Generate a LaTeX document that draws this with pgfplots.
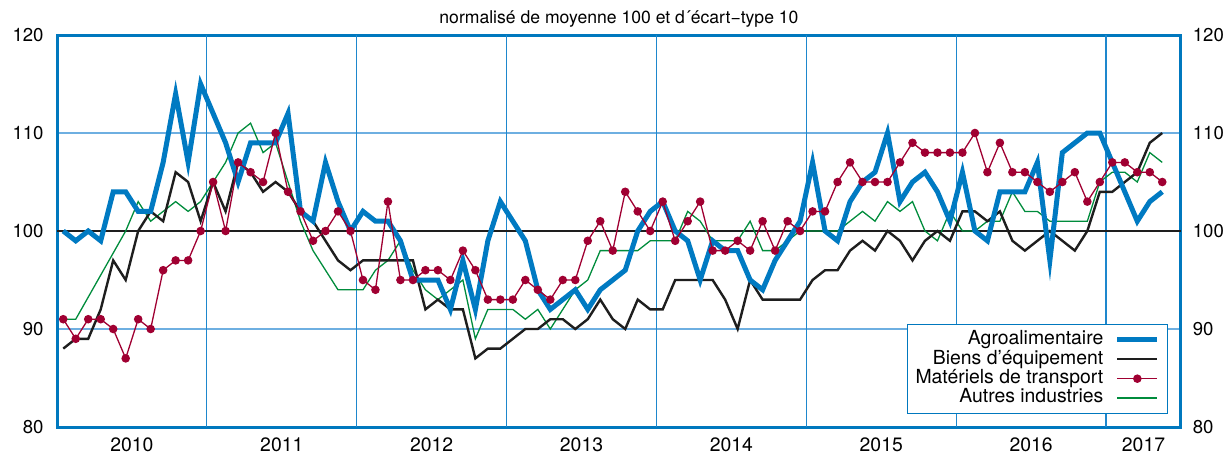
\documentclass[border=0pt]{standalone}
\usepackage{fontspec}
\setmainfont{TeX Gyre Heros}
\usepackage{pgfplots}
\usepackage{pgfplotstable}
\pgfplotsset{compat=1.18}
\definecolor{frameblue}{RGB}{0,120,190}
\definecolor{agro}{RGB}{0,122,194}
\definecolor{gridblue}{RGB}{110,175,225}
\definecolor{vblue}{RGB}{30,135,205}
\definecolor{transp}{RGB}{160,0,50}
\definecolor{autres}{RGB}{0,140,60}
\definecolor{biens}{RGB}{30,30,30}
\pgfplotstableread{
x agro biens transp autres
0.5 100 88 91 91
1.5 99 89 89 91
2.5 100 89 91 93.25
3.5 99 92 91 95.5
4.5 104 97 90 97.75
5.5 104 95 87 100
6.5 102 100 91 103
7.5 102 102 90 101
8.5 107 101 96 102
9.5 114 106 97 103
10.5 107 105 97 102
11.5 115 101 100 103
12.5 112 105 105 105
13.5 109 102 100 107
14.5 105 107 107 110
15.5 109 106 106 111
16.5 109 104 105 108
17.5 109 105 110 109
18.5 112 104 104 105
19.5 102 102 102 101
20.5 101 101 99 98
21.5 107 99 100 96
22.5 103 97 102 94
23.5 100 96 100 94
24.5 102 97 95 94
25.5 101 97 94 96
26.5 101 97 103 97
27.5 99 97 95 99
28.5 95 97 95 96
29.5 95 92 96 94
30.5 95 93 96 93
31.5 92 92 95 94
32.5 97 92 98 95
33.5 92 87 96 89
34.5 99 88 93 92
35.5 103 88 93 92
36.5 101 89 93 92
37.5 99 90 95 91
38.5 94 90 94 92
39.5 92 91 93 90
40.5 93 91 95 92
41.5 94 90 95 94
42.5 92 91 99 95
43.5 94 93 101 98
44.5 95 91 98 98
45.5 96 90 104 98
46.5 100 93 102 98
47.5 102 92 100 99
48.5 103 92 103 99
49.5 100 95 99 99
50.5 99 95 101 102
51.5 95 95 103 101
52.5 99 95 98 99
53.5 98 93 98 99
54.5 98 90 99 99
55.5 95 95 98 101
56.5 94 93 101 98
57.5 97 93 98 98
58.5 99 93 101 99
59.5 101 93 100 100
60.5 107 95 102 100
61.5 100 96 102 100
62.5 99 96 105 100
63.5 103 98 107 101
64.5 105 99 105 102
65.5 106 98 105 101
66.5 110 100 105 103
67.5 103 99 107 102
68.5 105 97 109 103
69.5 106 99 108 100
70.5 104 100 108 99
71.5 101 99 108 102
72.5 106 102 108 100
73.5 100 102 110 100
74.5 99 101 106 101
75.5 104 102 109 101
76.5 104 99 106 104
77.5 104 98 106 102
78.5 107 99 105 102
79.5 97 100 104 101
80.5 108 99 105 101
81.5 109 98 106 101
82.5 110 100 103 101
83.5 110 104 105 105
84.5 107 104 107 106
85.5 104 105 107 106
86.5 101 106 106 105
87.5 103 109 106 108
88.5 104 110 105 107
}\data
\begin{document}
\begin{tikzpicture}
\useasboundingbox (0,0) rectangle (613pt,227.5pt);
\begin{axis}[
  at={(28.5pt,14pt)}, anchor=south west,
  scale only axis, width=562pt, height=196pt,
  xmin=0, xmax=90, ymin=80, ymax=120,
  xtick={6,18,30,42,54,66,78,87},
  xticklabels={2010,2011,2012,2013,2014,2015,2016,2017},
  extra x ticks={12,24,36,48,60,72,84},
  extra x tick labels={},
  extra x tick style={grid=major, major grid style={vblue, line width=0.6pt}},
  ytick={80,90,100,110,120},
  ymajorgrids,
  major grid style={gridblue, line width=0.6pt},
  major tick length=0pt,
  ytick pos=left,
  axis line style={frameblue, line width=1.5pt},
  /pgf/number format/assume math mode=true,
  yticklabel style={font=\fontsize{9.3}{11}\selectfont, xshift=-3.2pt},
  xticklabel style={font=\fontsize{9.7}{11}\selectfont, yshift=-2pt},
  title={normalisé de moyenne 100 et d´écart−type 10},
  title style={at={(0.5,1)}, anchor=base, yshift=-0.2pt, inner sep=0pt, font=\fontsize{8.8}{10}\selectfont},
  legend style={at={(0.9884,0.0332)}, anchor=south east, draw=frameblue, line width=0.6pt, fill=white,
    font=\fontsize{9.7}{11}\selectfont, inner xsep=3.8pt, inner ysep=2.8pt,
    nodes={inner sep=0.3pt, text height=7pt, text depth=2.1pt},
    /tikz/every odd column/.style={column sep=5.5pt}},
  legend cell align=right, legend plot pos=right,
  legend image code/.code={\draw[mark repeat=2,mark phase=2] plot coordinates {(0cm,0cm) (0.35cm,0cm) (0.7cm,0cm)};},
]
\addlegendimage{agro, line width=2.5pt}
\addlegendentry{Agroalimentaire}
\addlegendimage{biens, line width=1.2pt}
\addlegendentry{Biens d’équipement}
\addlegendimage{transp, line width=0.65pt, mark=*, mark size=1.8pt}
\addlegendentry{Matériels de transport}
\addlegendimage{autres, line width=0.8pt}
\addlegendentry{Autres industries}
\draw[biens, line width=1pt] (axis cs:0,100) -- (axis cs:90,100);
\addplot[autres, line width=0.65pt, forget plot] table[x=x, y=autres] {\data};
\addplot[biens, line width=1.2pt, forget plot] table[x=x, y=biens] {\data};
\addplot[agro, line width=2.5pt, forget plot] table[x=x, y=agro] {\data};
\addplot[transp, line width=0.65pt, mark=*, mark size=1.8pt, forget plot] table[x=x, y=transp] {\data};
\end{axis}
\begin{axis}[
  at={(28.5pt,14pt)}, anchor=south west,
  scale only axis, width=562pt, height=196pt,
  xmin=0, xmax=90, ymin=80, ymax=120,
  hide x axis, axis y line*=right, axis line style={draw=none},
  ytick={80,90,100,110,120}, major tick length=0pt,
  /pgf/number format/assume math mode=true,
  yticklabel style={font=\fontsize{9.3}{11}\selectfont, xshift=2.4pt},
]
\end{axis}
\end{tikzpicture}
\end{document}
